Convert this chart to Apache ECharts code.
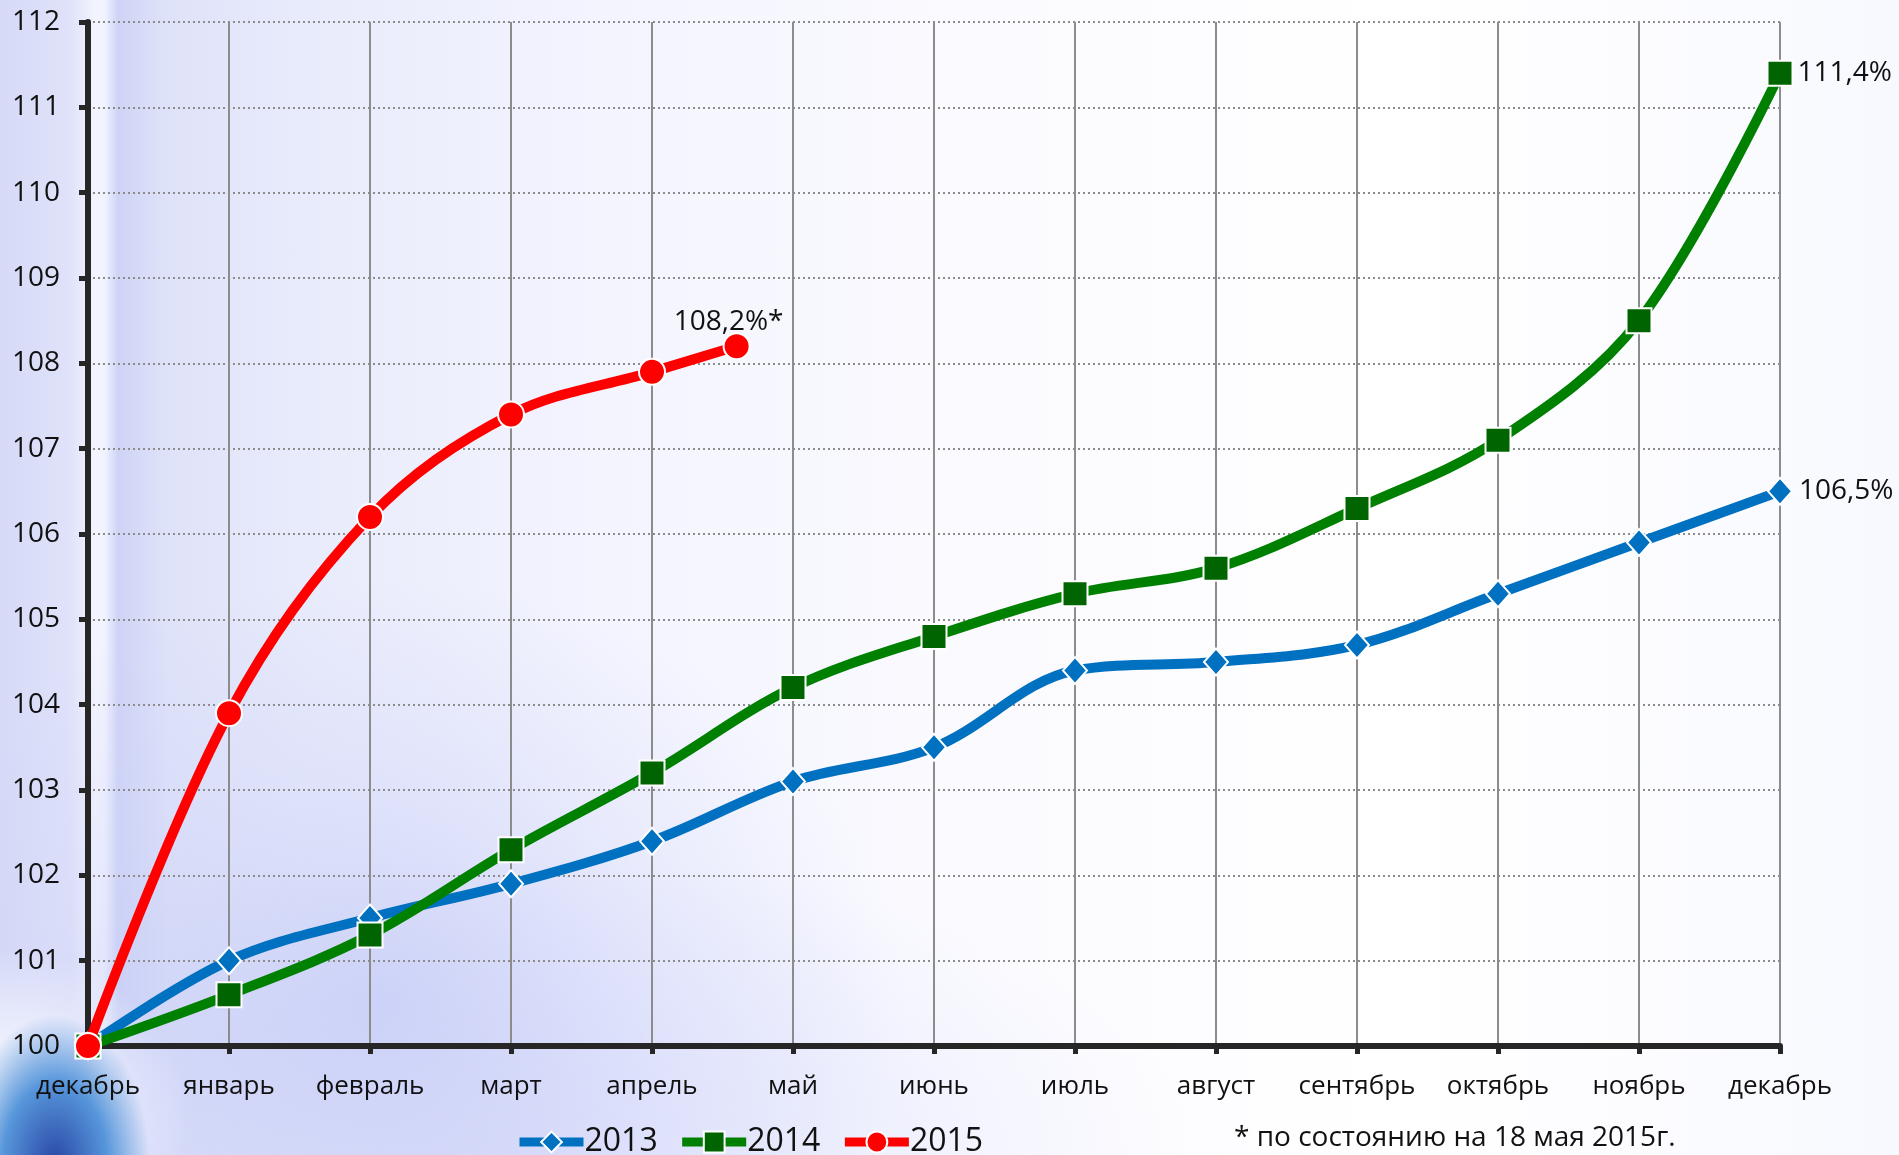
<!DOCTYPE html>
<html><head><meta charset="utf-8">
<script src="https://cdn.jsdelivr.net/npm/echarts@6/dist/echarts.min.js"></script>
<style>
html,body{margin:0;padding:0;width:1899px;height:1155px;overflow:hidden;}
body{background:
 radial-gradient(ellipse 95px 150px at 55px 1165px, rgba(30,60,160,0.95) 0%, rgba(70,140,215,0.9) 55%, rgba(120,190,235,0) 100%),
 radial-gradient(ellipse 190px 170px at 0px 1120px, rgba(255,255,255,0.95) 0%, rgba(235,238,252,0.75) 65%, rgba(255,255,255,0) 100%),
 radial-gradient(ellipse 520px 420px at 380px 1000px, rgba(185,193,245,0.55) 0%, rgba(200,206,248,0.25) 60%, rgba(255,255,255,0) 100%),
 radial-gradient(ellipse 700px 300px at 500px 1155px, rgba(200,206,248,0.45) 0%, rgba(255,255,255,0) 100%),
 linear-gradient(90deg, #d6daf7 0px, #dfe2f9 70px, #f3f4fe 95px, #f0f2fe 105px, #cfd4f6 118px, #dfe3f9 170px, #e8ebfb 300px, #f3f4fe 600px, #fbfbff 1000px, #ffffff 1400px, #f8f9ff 1899px);
}
#c{width:1899px;height:1155px;}
</style></head>
<body><div id="c"></div>
<script>
const months = ['декабрь','январь','февраль','март','апрель','май','июнь','июль','август','сентябрь','октябрь','ноябрь','декабрь'];
const yearNames = ['2013','2014','2015'];
const v2013 = [100,101.0,101.5,101.9,102.4,103.1,103.5,104.4,104.5,104.7,105.3,105.9,106.5];
const v2014 = [100,100.6,101.3,102.3,103.2,104.2,104.8,105.3,105.6,106.3,107.1,108.5,111.4];
const v2015 = [100,103.9,106.2,107.4,107.9,108.2];
const x2015 = [0,1,2,3,4,4.6];
const endLabels = ['106,5%','111,4%','108,2%*'];
const footnote = '* по состоянию на 18 мая 2015г.';

const FONT = 'Open Sans';
function pairs(xs, ys){ return ys.map((v,i)=>[xs[i], v]); }
const idx = months.map((m,i)=>i);
function lastLabel(arrLen, text){
  return function(p){ return p.dataIndex === arrLen-1 ? text : ''; };
}

const chart = echarts.init(document.getElementById('c'), null, {renderer:'canvas'});
chart.setOption({
  backgroundColor:'transparent',
  animation:false,
  grid:{left:88, right:119, top:22, bottom:109, containLabel:false},
  legend:{
    data:yearNames, left:510, top:1121, itemWidth:64, itemHeight:26, itemGap:20,
    lineStyle:{width:9},
    textStyle:{fontFamily:FONT, fontSize:32, color:'#111', padding:[0,0,0,-4]}
  },
  graphic:[{type:'text', left:1234, top:1124, style:{text:footnote, font:'28px "Open Sans"', fill:'#111'}}],
  xAxis:{
    type:'value', min:0, max:12, interval:1,
    axisLine:{show:true, onZero:false, lineStyle:{color:'#262626', width:6}},
    axisTick:{show:true, length:8, lineStyle:{color:'#262626', width:5}},
    axisLabel:{fontFamily:FONT, fontSize:26, color:'#111', margin:28, formatter:v=>months[v] ?? ''},
    splitLine:{show:true, lineStyle:{color:'#8c8c8c', width:2, type:'solid'}}
  },
  yAxis:{
    type:'value', min:100, max:112, interval:1,
    axisLine:{show:true, lineStyle:{color:'#262626', width:6}},
    axisTick:{show:true, length:9, lineStyle:{color:'#262626', width:5}},
    axisLabel:{fontFamily:FONT, fontSize:28, color:'#111', margin:28},
    splitLine:{show:true, lineStyle:{color:'#8c8c8c', width:2, type:[2,3]}}
  },
  series:[
    {name:'2013', type:'line', smooth:0.35, data:pairs(idx, v2013), z:3,
     lineStyle:{color:'#0070C0', width:10}, itemStyle:{color:'#0070C0', borderColor:'#fff', borderWidth:2},
     symbol:'diamond', symbolSize:[24,27],
     label:{show:true, position:'right', distance:6, fontFamily:FONT, fontSize:28, color:'#111', formatter:lastLabel(v2013.length, endLabels[0])}},
    {name:'2014', type:'line', smooth:0.35, data:pairs(idx, v2014), z:4,
     lineStyle:{color:'#008000', width:10}, itemStyle:{color:'#006400', borderColor:'#fff', borderWidth:2},
     symbol:'rect', symbolSize:25,
     label:{show:true, position:'right', distance:4, fontFamily:FONT, fontSize:28, color:'#111', formatter:lastLabel(v2014.length, endLabels[1])}},
    {name:'2015', type:'line', smooth:0.35, data:pairs(x2015, v2015), z:5,
     lineStyle:{color:'#FF0000', width:10}, itemStyle:{color:'#FF0000', borderColor:'#fff', borderWidth:2},
     symbol:'circle', symbolSize:26,
     label:{show:true, position:'top', distance:2, offset:[-8,6], fontFamily:FONT, fontSize:28, color:'#111', formatter:lastLabel(v2015.length, endLabels[2])}}
  ]
});
</script></body></html>
